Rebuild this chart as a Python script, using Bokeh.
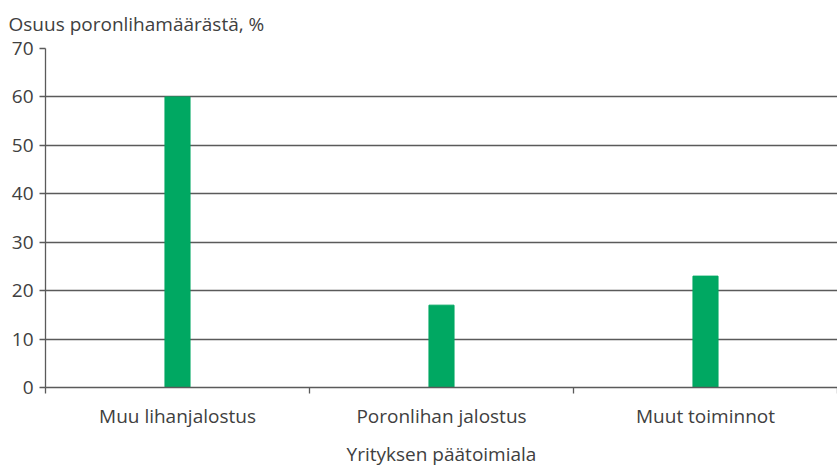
from bokeh.plotting import figure
from bokeh.models import FixedTicker, Range1d, ColumnDataSource, Title
from bokeh.embed import file_html
from bokeh.resources import INLINE

categories = ["Muu lihanjalostus", "Poronlihan jalostus", "Muut toiminnot"]
values = [60, 17, 23]
y_ticks = [0, 10, 20, 30, 40, 50, 60, 70]
y_title = "Osuus poronlihamäärästä, %"
x_title = "Yrityksen päätoimiala"

FONT = "Open Sans"
TXT = "#404040"
LINE = "#5a5a5a"
GREEN = "#00a862"
FS = "19px"

positions = [i + 0.5 for i in range(len(categories))]
src = ColumnDataSource(dict(x=positions, top=values))

p = figure(width=837, height=469, output_backend="svg", toolbar_location=None,
           x_range=Range1d(0, len(categories)), y_range=Range1d(0, y_ticks[-1]),
           min_border_left=45, min_border_right=0, min_border_top=48, min_border_bottom=81)
p.title = None
t = Title(text=y_title, text_font=FONT, text_font_size=FS, text_font_style="normal",
          text_color=TXT, align="left", vertical_align="top", offset=-37, standoff=20)
p.add_layout(t, "above")

p.vbar(x="x", top="top", width=0.095, bottom=0, source=src, color=GREEN)

p.outline_line_color = None
p.background_fill_color = "white"
p.xgrid.grid_line_color = None
p.ygrid.grid_line_color = LINE
p.ygrid.grid_line_width = 1.3
p.ygrid.ticker = FixedTicker(ticks=y_ticks)

ya = p.yaxis[0]
ya.ticker = FixedTicker(ticks=y_ticks)
ya.axis_line_color = LINE
ya.axis_line_width = 1.3
ya.major_tick_line_color = LINE
ya.major_tick_line_width = 1.3
ya.major_tick_out = 6
ya.major_tick_in = 0
ya.minor_tick_line_color = None
ya.major_label_text_font = FONT
ya.major_label_text_font_size = FS
ya.major_label_text_color = TXT
ya.major_label_standoff = 6

xa = p.xaxis[0]
xa.ticker = FixedTicker(ticks=positions, minor_ticks=list(range(len(categories) + 1)))
xa.major_label_overrides = {pos: c for pos, c in zip(positions, categories)}
xa.axis_line_color = LINE
xa.axis_line_width = 1.3
xa.major_tick_line_color = None
xa.minor_tick_line_color = LINE
xa.minor_tick_line_width = 1.3
xa.minor_tick_out = 6
xa.minor_tick_in = 0
xa.major_label_text_font = FONT
xa.major_label_text_font_size = FS
xa.major_label_text_color = TXT
xa.major_label_standoff = 9
xa.axis_label = x_title
xa.axis_label_text_font = FONT
xa.axis_label_text_font_size = FS
xa.axis_label_text_font_style = "normal"
xa.axis_label_text_color = TXT
xa.axis_label_standoff = 9

open("out.html", "w").write(file_html(p, INLINE))
